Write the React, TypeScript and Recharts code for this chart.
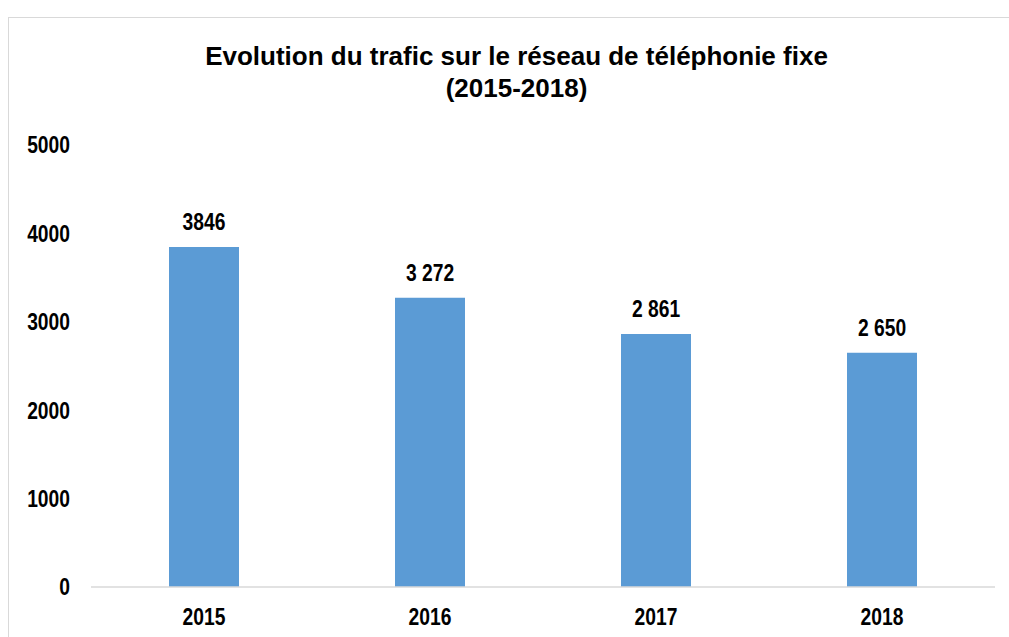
import { BarChart, Bar, XAxis, YAxis, LabelList } from 'recharts';

const years = ['2015', '2016', '2017', '2018'];
const traffic = [3846, 3272, 2861, 2650];
const valueLabels = ['3846', '3 272', '2 861', '2 650'];
const yTicks = [0, 1000, 2000, 3000, 4000, 5000];

// Arial Narrow look: Liberation Sans bold squeezed horizontally
const FONT = "'Liberation Sans', Arial, sans-serif";
const NARROW = 0.82;
const FS = 23.5;

const data = years.map((year, i) => ({
  year,
  traffic: traffic[i],
  label: valueLabels[i],
}));

const NarrowText = ({ x, y, anchor, dy, children }: any) => (
  <g transform={`translate(${x},${y})`}>
    <text
      transform={`scale(${NARROW},1)`}
      textAnchor={anchor}
      dy={dy}
      fill="#000"
      fontFamily={FONT}
      fontWeight="bold"
      fontSize={FS}
    >
      {children}
    </text>
  </g>
);

const YTick = ({ x, y, payload }: any) => (
  <NarrowText x={x} y={y} anchor="end" dy="0.355em">
    {payload.value}
  </NarrowText>
);

const XTick = ({ x, y, payload }: any) => (
  <NarrowText x={x} y={y} anchor="middle" dy="0.71em">
    {payload.value}
  </NarrowText>
);

const BarLabel = ({ x, y, width, value }: any) => (
  <NarrowText x={Number(x) + Number(width) / 2} y={Number(y) - 17} anchor="middle" dy={0}>
    {value}
  </NarrowText>
);

export default function App() {
  return (
    <div style={{ position: 'absolute', left: 0, top: 0, width: 1009, height: 637, background: '#fff', overflow: 'hidden' }}>
      {/* chart frame */}
      <div
        style={{
          position: 'absolute',
          left: 8,
          top: 17,
          width: 1010,
          height: 640,
          borderLeft: '1.5px solid #d9d9d9',
          borderTop: '1.5px solid #d9d9d9',
        }}
      />
      <div
        style={{
          position: 'absolute',
          left: 0,
          top: 40,
          width: 1033,
          textAlign: 'center',
          fontFamily: FONT,
          fontWeight: 'bold',
          fontSize: 26,
          lineHeight: '32px',
          color: '#000',
        }}
      >
        Evolution du trafic sur le réseau de téléphonie fixe
        <br />
        (2015-2018)
      </div>
      <div style={{ position: 'absolute', left: 0, top: 0 }}>
        <BarChart
          width={1009}
          height={637}
          data={data}
          margin={{ top: 145, right: 14, bottom: 0, left: 0 }}
        >
          <XAxis
            dataKey="year"
            height={50}
            axisLine={{ stroke: '#d9d9d9', strokeWidth: 1.5 }}
            tickLine={false}
            tickSize={0}
            tickMargin={21}
            tick={<XTick />}
          />
          <YAxis
            width={91}
            domain={[0, 5000]}
            ticks={yTicks}
            axisLine={false}
            tickLine={false}
            tickSize={0}
            tickMargin={21}
            tick={<YTick />}
          />
          <Bar dataKey="traffic" fill="#5b9bd5" barSize={70} isAnimationActive={false}>
            <LabelList dataKey="label" content={<BarLabel />} />
          </Bar>
        </BarChart>
      </div>
    </div>
  );
}
